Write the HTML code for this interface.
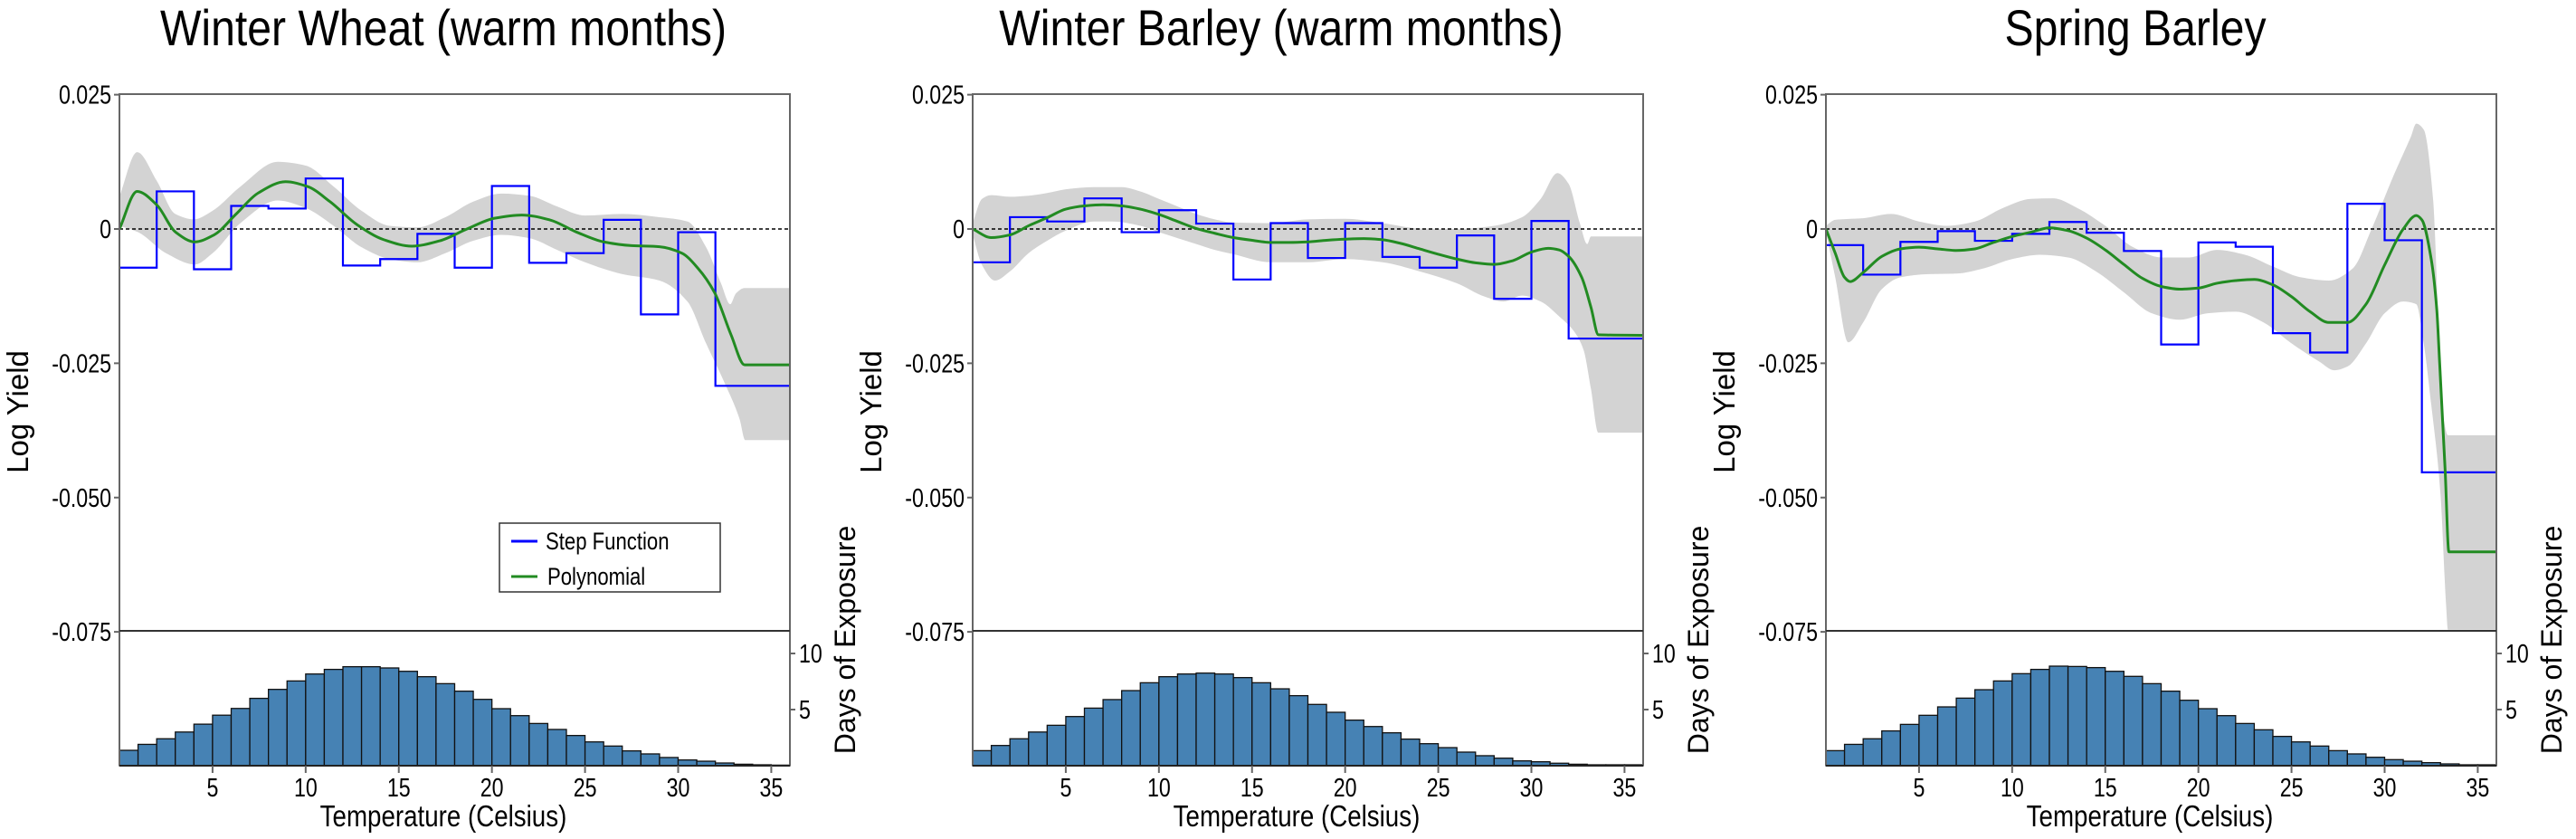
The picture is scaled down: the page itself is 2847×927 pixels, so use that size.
<!DOCTYPE html>
<html><head><meta charset="utf-8"><style>
html,body{margin:0;padding:0;background:#fff;}
svg{display:block;font-family:"Liberation Sans",sans-serif;}
</style></head><body>
<svg id="fig" width="2847" height="927" viewBox="0 0 2847 927">
<defs>
<clipPath id="clip0"><rect x="132" y="104" width="741" height="593"/></clipPath>
<clipPath id="clip1"><rect x="1075" y="104" width="741" height="593"/></clipPath>
<clipPath id="clip2"><rect x="2018" y="104" width="741" height="593"/></clipPath>
</defs>
</svg>
<script>
// ---- shared categories ----
const stepEdges = [0,2,4,6,8,10,12,14,16,18,20,22,24,26,28,30,32,36];
const histBins = [0,1,2,3,4,5,6,7,8,9,10,11,12,13,14,15,16,17,18,19,20,21,22,23,24,25,26,27,28,29,30,31,32,33,34,35];
const yTickValues = [0.025,0,-0.025,-0.050,-0.075];
const yTickLabels = ["0.025","0","-0.025","-0.050","-0.075"];
const xTickValues = [5,10,15,20,25,30,35];
const histTickValues = [5,10];
const titles = ["Winter Wheat (warm months)","Winter Barley (warm months)","Spring Barley"];

// ---- panel 1: Winter Wheat (values in 1e-3 log yield) ----
const p1Step = [-7.2,7.0,-7.5,4.3,3.8,9.4,-6.8,-5.6,-0.9,-7.2,8.0,-6.3,-4.5,1.7,-15.9,-0.6,-29.2];
const p1PolyX = [0,0.95,2.0,3.02,4.05,5.08,6.27,7.45,8.92,10.1,11.3,12.76,14.2,15.7,17.2,18.66,20.14,21.6,23.1,24.56,26.0,27.5,29.0,30.2,31.06,31.95,32.84,33.57,36];
const p1PolyY = [0,7.0,4.5,-0.6,-2.4,-1.1,2.8,6.7,8.8,7.9,5.1,0.8,-2.0,-3.2,-2.2,0,2.0,2.6,1.7,-0.6,-2.4,-3.1,-3.3,-4.5,-7.3,-11.8,-19.7,-25.3,-25.3];
const p1UpX = [0,0.95,2,3,4,5,6.5,8.5,10,11.5,13,14.5,16,17.5,19,20.5,22,23.5,25,27,29,30.5,31.5,32.3,32.8,33.1,33.57,36];
const p1Up = [6,14.3,9.0,2.8,1.8,3.4,7.9,12.5,11.8,7.9,3.4,0.6,0.3,2.2,5.1,6.6,6.2,4.2,2.5,2.8,2.2,1.4,-3.4,-10.1,-14,-12,-11,-11];
const p1LoX = [0,1,2.5,4.05,5,6.5,8.5,10,11.5,13,14.5,16,17.5,19,20.5,22,23.5,25,27,29,30.5,31.5,32.5,33.3,33.6,36];
const p1Lo = [0.6,-0.6,-4.5,-6.6,-4.5,1.1,5.3,3.9,0.6,-3.4,-5.6,-6.2,-4.5,-2.2,-1.1,-1.7,-3.9,-6.2,-8.4,-9.6,-13.5,-21.3,-28.7,-35.4,-39.3,-39.3];
const p1Hist = [1.37,1.9,2.4,3.0,3.7,4.5,5.1,6.0,6.8,7.55,8.17,8.58,8.82,8.82,8.71,8.41,7.93,7.31,6.64,5.91,5.08,4.46,3.76,3.23,2.69,2.12,1.75,1.32,1.05,0.73,0.51,0.40,0.24,0.13,0.08,0.05];

// ---- panel 2: Winter Barley ----
const p2Step = [-6.2,2.2,1.4,5.7,-0.6,3.5,1.0,-9.4,1.1,-5.4,1.1,-5.2,-7.2,-1.2,-13.0,1.5,-20.4];
const p2PolyX = [0,1,2,3,4,5,6,7,8,9,10,11,12,13,14,15,16,17,18,19,20,21,22,23,24,25,26,27,28,29,30,30.9,31.5,32,32.7,33.2,33.6,36];
const p2PolyY = [0,-1.6,-1.1,0.6,2.1,3.7,4.3,4.5,4.3,3.7,2.7,1.4,0.1,-0.8,-1.6,-2.1,-2.5,-2.5,-2.4,-2.1,-1.9,-1.8,-2.0,-2.7,-3.7,-4.7,-5.6,-6.3,-6.6,-5.9,-4.3,-3.6,-3.9,-5.1,-9.0,-14.6,-19.7,-19.8];
const p2UpX = [0,0.5,1,2,3,4,5,6.5,8,9,10,11,12,13,14,16,18,20,22,24,26,28,29.5,30.5,31.4,32,32.6,33.0,33.2,33.6,36];
const p2Up = [1.1,5.6,6.3,6.0,6.2,6.7,7.4,7.8,7.8,7.0,5.6,4.2,2.8,1.8,1.2,1.1,1.8,1.9,1.1,0.1,0,0.6,2.2,5.6,10.4,8.4,1.1,-2.8,-1.4,-1.4,-1.4];
const p2LoX = [0,0.5,1.2,2,3,4,5,6.5,7.5,9,10,11,12,13,14,16,18,20,22,24,26,27.5,28.5,29.5,30.5,31.5,32.3,32.8,33.2,33.6,36];
const p2Lo = [-1.1,-6.7,-9.6,-7.9,-4.5,-2.2,-0.3,1.4,1.4,0.6,-0.6,-1.7,-2.8,-3.9,-4.7,-6.2,-6.2,-5.6,-6.2,-7.9,-10.1,-12.6,-13.5,-12.4,-13.5,-16.3,-19.1,-22.5,-29.8,-37.9,-37.9];
const p2Hist = [1.34,1.8,2.4,3.0,3.6,4.38,5.13,5.89,6.69,7.39,7.93,8.17,8.25,8.17,7.85,7.39,6.85,6.24,5.46,4.76,4.06,3.49,2.93,2.37,1.96,1.61,1.21,0.89,0.67,0.43,0.35,0.22,0.13,0.08,0.08,0.08];

// ---- panel 3: Spring Barley ----
const p3Step = [-3.0,-8.5,-2.4,-0.4,-2.2,-0.9,1.3,-0.7,-4.1,-21.5,-2.5,-3.3,-19.4,-23.0,4.7,-2.1,-45.3];
const p3PolyX = [0,0.5,1,1.3,2,3,4,5,6,7,8,9,10,11,12,13,14,15,16,17,18,19,20,21,22,23,24,25,26,27,28,29,30,31,31.7,32,32.5,32.8,32.95,33.25,33.45,36];
const p3PolyY = [0,-4.5,-9.0,-9.8,-8.1,-5.1,-3.7,-3.4,-3.7,-4.0,-3.7,-2.5,-1.4,-0.6,0.2,-0.3,-1.7,-3.9,-6.6,-9.2,-10.7,-11.2,-11.0,-10.1,-9.6,-9.4,-10.4,-12.6,-15.4,-17.4,-17.4,-14.0,-6.7,0,2.5,1.7,-5.6,-15,-24.7,-45,-60.1,-60.1];
const p3UpX = [0,0.5,2,3.5,5,6.5,8,9.5,11,12.2,13.5,15,16.5,18,19.5,21,22.5,24,25.5,27,28.3,29.3,30.5,31.4,31.7,32.1,32.6,33.0,33.2,33.4,36];
const p3Up = [0.6,1.7,2.0,2.8,1.4,0.6,1.4,3.9,5.6,5.7,3.9,0.6,-3.4,-5.3,-5.3,-3.9,-4.8,-7.0,-9.0,-9.6,-7.3,0,10.1,17.1,19.6,18.5,5.6,-27,-36,-38.4,-38.4];
const p3LoX = [0,0.5,1.2,2,3,4,5.5,7,8.5,10,11.5,13,14.5,16,17.5,19,20.5,22,23.5,25,26.5,27.3,28,29,30,31,31.7,32.1,32.5,33.0,33.3,33.4,36];
const p3Lo = [-0.6,-9.0,-21.1,-17.4,-11.2,-9.0,-8.4,-8.3,-7.3,-5.6,-4.8,-5.3,-7.9,-11.8,-15.7,-16.9,-15.7,-15.4,-17.4,-21.3,-24.7,-26.3,-25.6,-21.3,-15.7,-13.5,-14.0,-21.3,-32.6,-49.4,-70,-74.6,-74.6];
const p3Hist = [1.34,1.9,2.4,3.1,3.68,4.49,5.24,6.02,6.77,7.55,8.2,8.58,8.87,8.84,8.74,8.41,7.96,7.31,6.64,5.83,5.08,4.46,3.76,3.2,2.61,2.12,1.75,1.34,1.05,0.75,0.54,0.40,0.27,0.16,0.08,0.08];

const panels = [
 {left:132, titleX:490, step:p1Step, px:p1PolyX, py:p1PolyY, ux:p1UpX, uy:p1Up, lx:p1LoX, ly:p1Lo, hist:p1Hist, legend:true},
 {left:1075, titleX:1416, step:p2Step, px:p2PolyX, py:p2PolyY, ux:p2UpX, uy:p2Up, lx:p2LoX, ly:p2Lo, hist:p2Hist, legend:false},
 {left:2018, titleX:2360, step:p3Step, px:p3PolyX, py:p3PolyY, ux:p3UpX, uy:p3Up, lx:p3LoX, ly:p3Lo, hist:p3Hist, legend:false}
];

const NS = "http://www.w3.org/2000/svg";
const svg = document.getElementById("fig");
const W = 741, TOP = 104, SEP = 697, BOT = 846;
const yScale = v => 253 - v * 5935;
const yMilli = v => yScale(v / 1000);
const hScale = c => BOT - c * 12.4;

function mk(tag, attrs, parent) {
  const e = document.createElementNS(NS, tag);
  for (const k in attrs) e.setAttribute(k, attrs[k]);
  (parent || svg).appendChild(e);
  return e;
}
// monotone cubic (Fritsch-Carlson) path through points sorted by x
function monoPath(pts, start, reverse) {
  const n = pts.length;
  const dx = [], s = [], m = new Array(n);
  for (let i = 0; i < n - 1; i++) { dx[i] = pts[i+1][0] - pts[i][0]; s[i] = (pts[i+1][1] - pts[i][1]) / dx[i]; }
  m[0] = s[0]; m[n-1] = s[n-2];
  for (let i = 1; i < n - 1; i++) {
    if (s[i-1] * s[i] <= 0) m[i] = 0;
    else { const w1 = 2*dx[i] + dx[i-1], w2 = dx[i] + 2*dx[i-1]; m[i] = (w1 + w2) / (w1 / s[i-1] + w2 / s[i]); }
  }
  const segs = [];
  for (let i = 0; i < n - 1; i++) {
    const p = pts[i], q = pts[i+1], h = dx[i] / 3;
    segs.push([p, [p[0]+h, p[1]+m[i]*h], [q[0]-h, q[1]-m[i+1]*h], q]);
  }
  const f = v => v.toFixed(2);
  let d = "";
  if (!reverse) {
    d = (start ? "M" : "L") + f(pts[0][0]) + "," + f(pts[0][1]);
    segs.forEach(sg => { d += " C" + f(sg[1][0]) + "," + f(sg[1][1]) + " " + f(sg[2][0]) + "," + f(sg[2][1]) + " " + f(sg[3][0]) + "," + f(sg[3][1]); });
  } else {
    d = (start ? "M" : "L") + f(pts[n-1][0]) + "," + f(pts[n-1][1]);
    for (let i = segs.length - 1; i >= 0; i--) { const sg = segs[i]; d += " C" + f(sg[2][0]) + "," + f(sg[2][1]) + " " + f(sg[1][0]) + "," + f(sg[1][1]) + " " + f(sg[0][0]) + "," + f(sg[0][1]); }
  }
  return d;
}

panels.forEach((P, pi) => {
  const xS = d => P.left + d * (W / 36);
  const R = P.left + W;
  const g = mk("g", {});
  
  

  const t = mk("text", {x: 0, y: 0, "font-size": 56, "text-anchor": "middle", fill: "#000", transform: "translate(" + P.titleX + ",50) scale(0.86,1)"}, g);
  t.textContent = titles[pi];
  
  

  const plot = mk("g", {"clip-path": "url(#clip" + pi + ")"}, g);
  
  

  const up = P.ux.map((d, i) => [xS(d), yMilli(P.uy[i])]);
  const lo = P.lx.map((d, i) => [xS(d), yMilli(P.ly[i])]);
  const band = mk("path", {d: monoPath(up, true, false) + " " + monoPath(lo, false, true) + " Z", fill: "#d3d3d3", stroke: "none"}, plot);
  
  

  const z = mk("line", {x1: P.left, x2: R, y1: yScale(0), y2: yScale(0), stroke: "#000", "stroke-width": 1.5, "stroke-dasharray": "4,3"}, plot);
  
  

  let sd = "";
  P.step.forEach((v, i) => {
    const x1 = xS(stepEdges[i]), x2 = xS(stepEdges[i + 1]), y = yMilli(v);
    sd += (i === 0 ? "M" : "L") + x1.toFixed(2) + "," + y.toFixed(2) + " L" + x2.toFixed(2) + "," + y.toFixed(2) + " ";
  });
  const st = mk("path", {d: sd, fill: "none", stroke: "#0000ff", "stroke-width": 2.2}, plot);
  
  

  const pp = P.px.map((d, i) => [xS(d), yMilli(P.py[i])]);
  const pl = mk("path", {d: monoPath(pp, true, false), fill: "none", stroke: "#228b22", "stroke-width": 3}, plot);
  
  

  P.hist.forEach((c, i) => {
    const b = mk("rect", {x: xS(histBins[i]), y: hScale(c), width: W / 36, height: BOT - hScale(c), fill: "#4682b4", stroke: "#111", "stroke-width": 1.3}, g);
    
    
  });

  const fr = mk("path", {d: "M" + P.left + "," + BOT + " L" + P.left + "," + TOP + " L" + R + "," + TOP + " L" + R + "," + BOT, fill: "none", stroke: "#666", "stroke-width": 2}, g);
  
  
  const sp = mk("line", {x1: P.left, x2: R, y1: SEP, y2: SEP, stroke: "#333", "stroke-width": 2}, g);
  
  
  const bl = mk("line", {x1: P.left, x2: R, y1: BOT, y2: BOT, stroke: "#222", "stroke-width": 2}, g);
  
  

  yTickValues.forEach((v, i) => {
    const y = yScale(v);
    mk("line", {x1: P.left - 6, x2: P.left, y1: y, y2: y, stroke: "#666", "stroke-width": 2}, g);
    const lt = mk("text", {x: 0, y: 0, "font-size": 29, "text-anchor": "end", transform: "translate(" + (P.left - 9) + "," + (y + 10) + ") scale(0.8,1)"}, g);
    lt.textContent = yTickLabels[i];
    
    
  });
  xTickValues.forEach(v => {
    const x = xS(v);
    mk("line", {x1: x, x2: x, y1: BOT, y2: BOT + 8, stroke: "#666", "stroke-width": 2}, g);
    const lt = mk("text", {x: 0, y: 0, "font-size": 29, "text-anchor": "middle", transform: "translate(" + x + ",880) scale(0.8,1)"}, g);
    lt.textContent = String(v);
    
    
  });
  histTickValues.forEach(v => {
    const y = hScale(v);
    mk("line", {x1: R, x2: R + 6, y1: y, y2: y, stroke: "#666", "stroke-width": 2}, g);
    const lt = mk("text", {x: 0, y: 0, "font-size": 29, "text-anchor": "start", transform: "translate(" + (R + 10) + "," + (y + 10) + ") scale(0.8,1)"}, g);
    lt.textContent = String(v);
    
    
  });

  const xt = mk("text", {x: 0, y: 0, "font-size": 33, "text-anchor": "middle", transform: "translate(" + (P.left + 358) + ",913) scale(0.84,1)"}, g);
  xt.textContent = "Temperature (Celsius)";
  
  
  const yt = mk("text", {x: 0, y: 0, "font-size": 33, "text-anchor": "middle", transform: "translate(" + (P.left - 101) + ",455) rotate(-90)"}, g);
  yt.textContent = "Log Yield";
  
  
  const dt = mk("text", {x: 0, y: 0, "font-size": 32, "text-anchor": "middle", transform: "translate(" + (R + 72) + ",707) rotate(-90)"}, g);
  dt.textContent = "Days of Exposure";
  
  

  if (P.legend) {
    const lg = mk("g", {}, g);
    
    
    mk("rect", {x: 552, y: 578, width: 244, height: 76, fill: "#fff", stroke: "#333", "stroke-width": 1.5}, lg);
    const e1 = mk("line", {x1: 565, x2: 594, y1: 598, y2: 598, stroke: "#0000ff", "stroke-width": 3}, lg);
    
    
    const l1 = mk("text", {x: 0, y: 0, "font-size": 27, transform: "translate(603,607) scale(0.82,1)"}, lg);
    l1.textContent = "Step Function";
    
    
    const e2 = mk("line", {x1: 565, x2: 594, y1: 637, y2: 637, stroke: "#228b22", "stroke-width": 3}, lg);
    
    
    const l2 = mk("text", {x: 0, y: 0, "font-size": 27, transform: "translate(605,646) scale(0.82,1)"}, lg);
    l2.textContent = "Polynomial";
    
    
  }
});
</script>
</body></html>
